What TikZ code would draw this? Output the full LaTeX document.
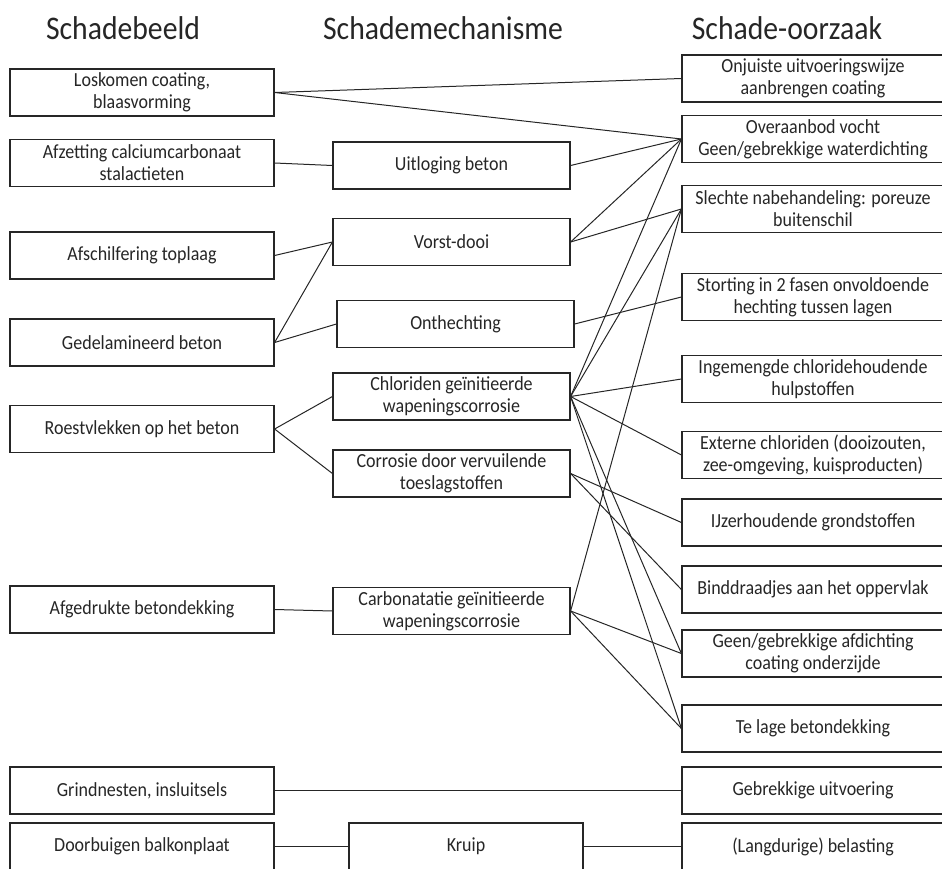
\documentclass[tikz,border=0pt]{standalone}
\usepackage{fontspec}
\setmainfont{Carlito}[FakeStretch=0.9]
\usetikzlibrary{positioning}
\definecolor{Inkt}{HTML}{262626}
\tikzset{
  kop/.style     = {font=\fontsize{33}{38}\selectfont, text=Inkt},
  vak/.style     = {draw=Inkt, line width=1.2pt, align=center, text=Inkt,
                    font=\fontsize{20}{22}\selectfont, minimum height=47pt,
                    inner sep=0pt},
  beeld/.style   = {vak, minimum width=264pt},
  mech/.style    = {vak, minimum width=237pt},
  oorzaak/.style = {vak, minimum width=262pt},
  lijn/.style    = {draw=Inkt, line width=1pt},
}

\begin{document}
\begin{tikzpicture}[x=1pt,y=-1pt]
  \clip (0,0) rectangle (942,869);
  \node[kop] (k1) at (123,28) {Schadebeeld};
  \node[kop] (k2) at (443,28) {Schademechanisme};
  \node[kop] (k3) at (787,28) {Schade-oorzaak};
  % schadebeeld
  \node[beeld] (los)   at (142,92.5)  {Loskomen coating,\\blaasvorming};
  \node[beeld] (afz)   at (142,163)   {Afzetting calciumcarbonaat\\stalactieten};
  \node[beeld] (afs)   at (142,255.5) {Afschilfering toplaag};
  \node[beeld] (gedel) at (142,342.5) {Gedelamineerd beton};
  \node[beeld] (roest) at (142,429)   {Roestvlekken op het beton};
  \node[beeld] (afgdr) at (142,609.5) {Afgedrukte betondekking};
  \node[beeld] (grind) at (142,790.5) {Grindnesten, insluitsels};
  \node[beeld] (doorb) at (142,846.5) {Doorbuigen balkonplaat};
  % schademechanisme
  \node[mech] (uitl)  at (451.5,165.5) {Uitloging beton};
  \node[mech] (vorst) at (451.5,242)   {Vorst-dooi};
  \node[mech] (onth)  at (455.5,324)   {Onthechting};
  \node[mech] (chlor) at (451.5,396.5) {Chloriden geïnitieerde\\wapeningscorrosie};
  \node[mech] (corr)  at (451.5,473.5) {Corrosie door vervuilende\\toeslagstoffen};
  \node[mech] (carb)  at (451.5,611)   {Carbonatatie geïnitieerde\\wapeningscorrosie};
  \node[mech,minimum width=234pt] (kruip) at (466,846.5) {Kruip};
  % schade-oorzaak
  \node[oorzaak] (onj)    at (813,78.5)  {Onjuiste uitvoeringswijze\\aanbrengen coating};
  \node[oorzaak] (over)   at (813,139)   {Overaanbod vocht\\Geen/gebrekkige waterdichting};
  \node[oorzaak] (slecht) at (813,209)   {Slechte nabehandeling: poreuze\\buitenschil};
  \node[oorzaak] (stort)  at (813,297)   {Storting in 2 fasen onvoldoende\\hechting tussen lagen};
  \node[oorzaak] (ingem)  at (813,379)   {Ingemengde chloridehoudende\\hulpstoffen};
  \node[oorzaak] (extern) at (813,455)   {Externe chloriden (dooizouten,\\zee-omgeving, kuisproducten)};
  \node[oorzaak] (ijzer)  at (813,522.5) {IJzerhoudende grondstoffen};
  \node[oorzaak] (bind)   at (813,589.5) {Binddraadjes aan het oppervlak};
  \node[oorzaak] (afdicht) at (813,653.5) {Geen/gebrekkige afdichting\\coating onderzijde};
  \node[oorzaak] (telage) at (813,728.5) {Te lage betondekking};
  \node[oorzaak] (gebrek) at (813,790.5) {Gebrekkige uitvoering};
  \node[oorzaak] (belast) at (813,846.5) {(Langdurige) belasting};
  % verbindingen
  \draw[lijn] (los.east) -- (onj.west);
  \draw[lijn] (los.east) -- (over.west);
  \draw[lijn] (afz.east) -- (uitl.west);
  \draw[lijn] (afs.east) -- (vorst.west);
  \draw[lijn] (gedel.east) -- (vorst.west);
  \draw[lijn] (gedel.east) -- (onth.west);
  \draw[lijn] (roest.east) -- (chlor.west);
  \draw[lijn] (roest.east) -- (corr.west);
  \draw[lijn] (afgdr.east) -- (carb.west);
  \draw[lijn] (grind.east) -- (gebrek.west);
  \draw[lijn] (doorb.east) -- (kruip.west);
  \draw[lijn] (kruip.east) -- (belast.west);
  \draw[lijn] (uitl.east) -- (over.west);
  \draw[lijn] (vorst.east) -- (over.west);
  \draw[lijn] (vorst.east) -- (slecht.west);
  \draw[lijn] (onth.east) -- (stort.west);
  \foreach \doel in {over,slecht,ingem,extern,afdicht,telage}
    \draw[lijn] (chlor.east) -- (\doel.west);
  \draw[lijn] (corr.east) -- (ijzer.west);
  \draw[lijn] (corr.east) -- (bind.west);
  \foreach \doel in {slecht,afdicht,telage}
    \draw[lijn] (carb.east) -- (\doel.west);
\end{tikzpicture}
\end{document}
